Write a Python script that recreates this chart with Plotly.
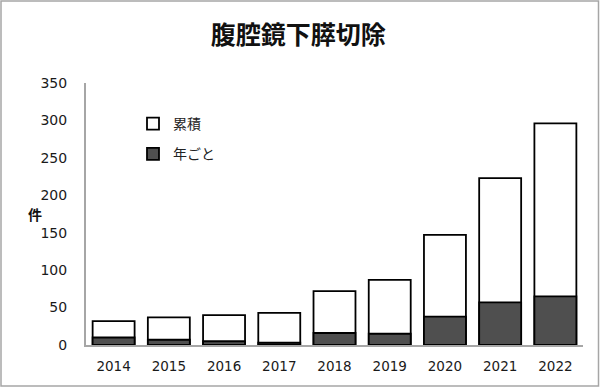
import plotly.graph_objects as go

years = ["2014", "2015", "2016", "2017", "2018", "2019", "2020", "2021", "2022"]
cumulative = [32, 37, 40, 43, 72, 87, 147, 223, 296]
yearly = [10, 7, 5, 3, 16, 15, 38, 57, 65]
y_ticks = [0, 50, 100, 150, 200, 250, 300, 350]

FONT = "DejaVu Sans, Noto Sans CJK JP, sans-serif"
L, R, T, B = 86, 17, 83, 42
W, H = 600, 387
pw, ph = W - L - R, H - T - B

def px_x(p):
    return (p - L) / pw

def px_y(p):
    return (H - B - p) / ph

fig = go.Figure()
fig.add_trace(go.Bar(
    x=years, y=cumulative, name="累積", legendgroup="a",
    marker=dict(color="white", line=dict(color="black", width=1.8)),
))
fig.add_trace(go.Bar(
    x=years, y=yearly, name="年ごと", legendgroup="b",
    marker=dict(color="#4f4f4f", line=dict(color="black", width=1.8)),
))

fig.update_layout(
    width=W, height=H,
    margin=dict(l=L, r=R, t=T, b=B),
    paper_bgcolor="white", plot_bgcolor="white",
    barmode="overlay", bargap=0.24,
    font=dict(family=FONT, size=13, color="#222222"),
    title=dict(text="<b>腹腔鏡下膵切除</b>", x=0.497, xanchor="center",
               y=1 - 35 / H, yanchor="middle",
               font=dict(family="Noto Sans CJK JP, sans-serif", size=25, color="#111111")),
    legend=dict(x=px_x(133), y=px_y(108), xanchor="left", yanchor="top",
                bgcolor="rgba(0,0,0,0)", font=dict(family="Noto Sans CJK JP, sans-serif", size=14, color="#222222"),
                tracegroupgap=9),
    showlegend=True,
)
fig.update_xaxes(
    type="category", showline=True, linecolor="#a6a6a6", linewidth=2,
    showgrid=False, ticks="outside", ticklen=8, tickcolor="rgba(0,0,0,0)",
    tickfont=dict(size=13.5, color="#1a1a1a"),
)
fig.update_yaxes(
    range=[0, 350], tickvals=y_ticks, showline=True, linecolor="#a6a6a6", linewidth=2,
    showgrid=False, zeroline=False, ticks="outside", ticklen=14, tickcolor="rgba(0,0,0,0)",
    tickfont=dict(size=14, color="#1a1a1a"),
)
fig.add_annotation(
    text="<b>件</b>", x=px_x(26), y=px_y(214), xref="paper", yref="paper",
    showarrow=False, font=dict(family="Noto Sans CJK JP, sans-serif", size=14, color="#111111"),
)
fig.add_shape(
    type="rect", xref="paper", yref="paper",
    x0=px_x(1), x1=px_x(598.5), y0=px_y(386), y1=px_y(1),
    line=dict(color="#a6a6a6", width=1.5), fillcolor="rgba(0,0,0,0)", layer="below",
)

fig.write_html("out.html", config={"displayModeBar": False},
               post_script="document.body.style.margin='0';")
